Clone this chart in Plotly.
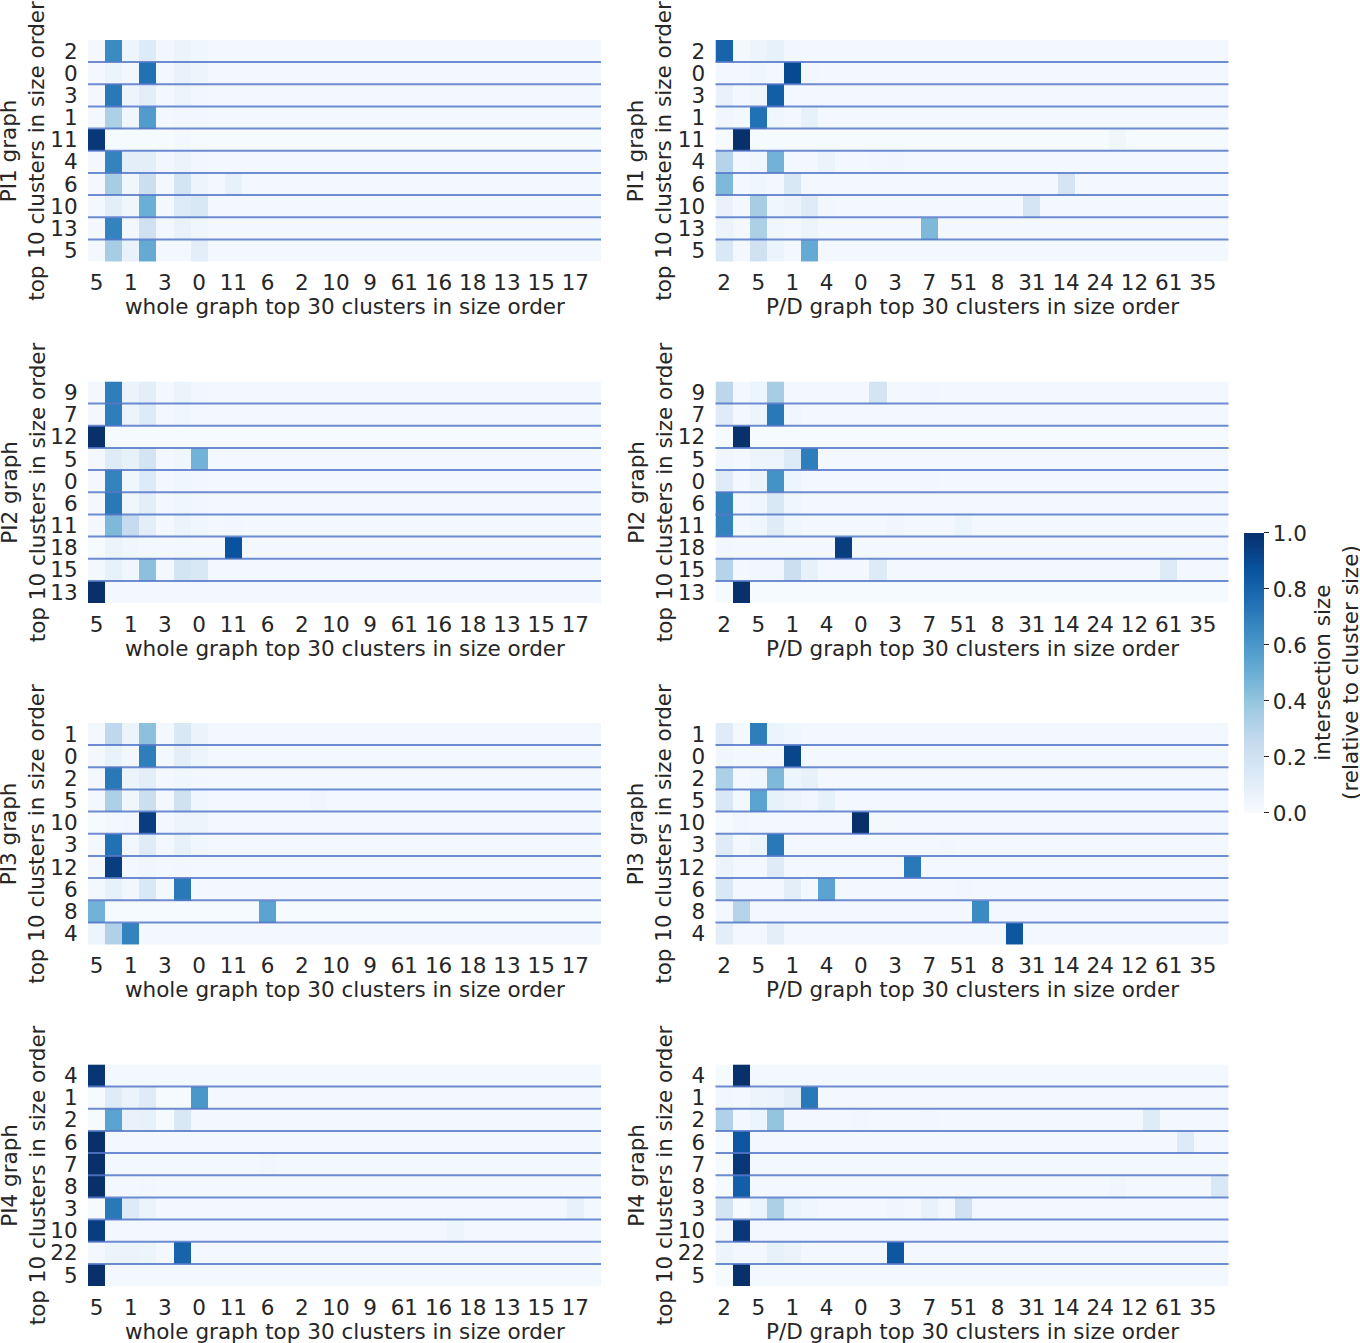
import plotly.graph_objects as go

# ---------------- data ----------------
whole_labels = ["5", "1", "3", "0", "11", "6", "2", "10", "9", "61", "16", "18", "13", "15", "17"]
pd_labels = ["2", "5", "1", "4", "0", "3", "7", "51", "8", "31", "14", "24", "12", "61", "35"]

pi1_rows = ["2", "0", "3", "1", "11", "4", "6", "10", "13", "5"]
pi2_rows = ["9", "7", "12", "5", "0", "6", "11", "18", "15", "13"]
pi3_rows = ["1", "0", "2", "5", "10", "3", "12", "6", "8", "4"]
pi4_rows = ["4", "1", "2", "6", "7", "8", "3", "10", "22", "5"]

pi1_whole = [
    [.02,.65,.05,.13,.03,.06,.04,.02,.02,.02, .02,.02,.02,.02,.02,.02,.02,.02,.02,.02, .02,.02,.02,.02,.02,.02,.02,.02,.02,.02],
    [.02,.06,.03,.75,.02,.07,.05,.02,.02,.02, .02,.02,.02,.02,.02,.02,.02,.02,.02,.02, .02,.02,.02,.02,.02,.02,.02,.02,.02,.02],
    [.02,.72,.05,.10,.02,.05,.03,.02,.02,.02, .02,.02,.02,.02,.02,.02,.02,.02,.02,.02, .02,.02,.02,.02,.02,.02,.02,.02,.02,.02],
    [.02,.33,.04,.58,.02,.03,.03,.02,.02,.02, .02,.02,.02,.02,.02,.02,.02,.02,.02,.02, .02,.02,.02,.02,.02,.02,.02,.02,.02,.02],
    [.97,.01,.01,.01,.01,.02,.01,.01,.01,.01, .01,.01,.01,.01,.01,.01,.01,.01,.01,.01, .01,.01,.01,.01,.01,.01,.01,.01,.01,.01],
    [.02,.68,.10,.10,.03,.06,.03,.02,.02,.02, .02,.02,.02,.02,.02,.02,.02,.02,.02,.02, .02,.02,.02,.02,.02,.02,.02,.02,.02,.02],
    [.02,.35,.04,.22,.02,.18,.05,.02,.08,.02, .02,.02,.02,.02,.02,.02,.02,.02,.02,.02, .02,.02,.02,.02,.02,.02,.02,.02,.02,.02],
    [.02,.10,.04,.50,.02,.13,.15,.02,.02,.02, .02,.02,.02,.02,.02,.02,.02,.02,.02,.02, .02,.02,.02,.02,.02,.02,.02,.02,.02,.02],
    [.02,.68,.03,.20,.02,.07,.04,.02,.02,.02, .02,.02,.02,.02,.02,.02,.02,.02,.02,.02, .02,.02,.02,.02,.02,.02,.02,.02,.02,.02],
    [.02,.35,.07,.52,.02,.02,.10,.02,.02,.02, .02,.02,.02,.02,.02,.02,.02,.02,.02,.02, .02,.02,.02,.02,.02,.02,.02,.02,.02,.02],
]

pi1_pd = [
    [.80,.02,.05,.08,.03,.02,.02,.02,.02,.02, .02,.02,.02,.02,.02,.02,.02,.02,.02,.02, .02,.02,.02,.02,.02,.02,.02,.02,.02,.02],
    [.02,.02,.04,.02,.90,.03,.02,.02,.02,.02, .02,.02,.02,.02,.02,.02,.02,.02,.02,.02, .02,.02,.02,.02,.02,.02,.02,.02,.02,.02],
    [.07,.02,.04,.82,.02,.02,.02,.02,.02,.02, .02,.02,.02,.02,.02,.02,.02,.02,.02,.02, .02,.02,.02,.02,.02,.02,.02,.02,.02,.02],
    [.04,.02,.75,.04,.02,.08,.02,.02,.02,.02, .02,.02,.02,.02,.02,.02,.02,.02,.02,.02, .02,.02,.02,.02,.02,.02,.02,.02,.02,.02],
    [.01,1.0,.01,.01,.01,.01,.01,.01,.01,.01, .01,.01,.01,.01,.01,.01,.01,.01,.01,.01, .01,.01,.01,.04,.01,.01,.01,.01,.01,.01],
    [.30,.02,.04,.48,.02,.02,.06,.02,.02,.03, .04,.02,.02,.02,.02,.02,.02,.02,.02,.02, .02,.02,.02,.02,.02,.02,.02,.02,.02,.02],
    [.45,.02,.04,.02,.15,.02,.02,.02,.02,.02, .02,.02,.02,.02,.02,.02,.02,.02,.02,.02, .17,.02,.02,.02,.02,.02,.02,.02,.02,.02],
    [.07,.02,.35,.04,.06,.12,.03,.02,.02,.02, .02,.02,.02,.02,.02,.02,.02,.02,.17,.02, .02,.02,.02,.02,.02,.02,.02,.02,.02,.02],
    [.06,.02,.33,.04,.02,.05,.02,.02,.02,.02, .02,.02,.45,.02,.02,.02,.02,.02,.02,.02, .02,.02,.02,.02,.02,.02,.02,.02,.02,.02],
    [.15,.02,.20,.06,.02,.52,.02,.02,.02,.02, .02,.02,.02,.02,.02,.02,.02,.02,.02,.02, .02,.02,.02,.02,.02,.02,.02,.02,.02,.02],
]

pi2_whole = [
    [.02,.70,.06,.10,.02,.06,.03,.02,.02,.02, .02,.02,.02,.02,.02,.02,.02,.02,.02,.02, .02,.02,.02,.02,.02,.02,.02,.02,.02,.02],
    [.02,.70,.06,.13,.02,.04,.02,.02,.02,.02, .02,.02,.02,.02,.02,.02,.02,.02,.02,.02, .02,.02,.02,.02,.02,.02,.02,.02,.02,.02],
    [1.0,.01,.01,.01,.01,.01,.01,.01,.01,.01, .01,.01,.01,.01,.01,.01,.01,.01,.01,.01, .01,.01,.01,.01,.01,.01,.01,.01,.01,.01],
    [.02,.12,.08,.18,.02,.04,.48,.02,.02,.02, .02,.02,.02,.02,.02,.02,.02,.02,.02,.02, .02,.02,.02,.02,.02,.02,.02,.02,.02,.02],
    [.02,.68,.04,.13,.02,.04,.03,.02,.02,.02, .02,.02,.02,.02,.02,.02,.02,.02,.02,.02, .02,.02,.02,.02,.02,.02,.02,.02,.02,.02],
    [.02,.72,.04,.10,.02,.04,.03,.02,.02,.02, .02,.02,.02,.02,.02,.02,.02,.02,.02,.02, .02,.02,.02,.02,.02,.02,.02,.02,.02,.02],
    [.02,.45,.25,.10,.02,.06,.04,.02,.03,.02, .02,.02,.02,.02,.02,.02,.02,.02,.02,.02, .02,.02,.02,.02,.02,.02,.02,.02,.02,.02],
    [.01,.06,.04,.02,.02,.02,.02,.02,.87,.02, .02,.02,.02,.02,.02,.02,.02,.02,.02,.02, .02,.02,.02,.02,.02,.02,.02,.02,.02,.02],
    [.02,.08,.04,.42,.02,.18,.15,.02,.02,.02, .02,.02,.02,.02,.02,.02,.02,.02,.02,.02, .02,.02,.02,.02,.02,.02,.02,.02,.02,.02],
    [1.0,.02,.02,.02,.02,.02,.02,.02,.02,.02, .02,.02,.02,.02,.02,.02,.02,.02,.02,.02, .02,.02,.02,.02,.02,.02,.02,.02,.02,.02],
]

pi2_pd = [
    [.28,.02,.05,.35,.02,.02,.02,.02,.02,.18, .02,.02,.03,.02,.02,.02,.02,.02,.02,.02, .02,.02,.02,.02,.02,.02,.02,.02,.02,.02],
    [.12,.02,.05,.72,.04,.02,.02,.02,.02,.02, .02,.02,.02,.02,.02,.02,.02,.02,.02,.02, .02,.02,.02,.02,.02,.02,.02,.02,.02,.02],
    [.01,1.0,.01,.01,.01,.01,.01,.01,.01,.01, .01,.01,.01,.01,.01,.01,.01,.01,.01,.01, .01,.01,.01,.01,.01,.01,.01,.01,.01,.01],
    [.04,.02,.05,.05,.13,.70,.02,.02,.02,.02, .02,.02,.02,.02,.02,.02,.02,.02,.02,.02, .02,.02,.02,.02,.02,.02,.02,.02,.02,.02],
    [.12,.02,.06,.62,.05,.02,.02,.02,.02,.02, .02,.02,.03,.02,.02,.02,.02,.02,.02,.02, .02,.02,.02,.02,.02,.02,.02,.02,.02,.02],
    [.68,.02,.04,.15,.04,.02,.02,.02,.02,.02, .02,.02,.02,.02,.02,.02,.02,.02,.02,.02, .02,.02,.02,.02,.02,.02,.02,.02,.02,.02],
    [.68,.02,.04,.12,.04,.02,.02,.02,.02,.02, .04,.02,.02,.02,.05,.02,.02,.02,.02,.02, .02,.02,.02,.02,.02,.02,.02,.02,.02,.02],
    [.03,.02,.02,.02,.02,.02,.02,.95,.02,.02, .02,.02,.02,.02,.02,.02,.02,.02,.02,.02, .02,.02,.02,.02,.02,.02,.02,.02,.02,.02],
    [.30,.02,.03,.03,.22,.08,.02,.02,.02,.13, .02,.02,.02,.02,.02,.02,.02,.02,.02,.02, .02,.02,.02,.02,.02,.02,.13,.02,.02,.02],
    [.01,1.0,.01,.01,.01,.01,.01,.01,.01,.01, .01,.01,.01,.01,.01,.01,.01,.01,.01,.01, .01,.01,.01,.01,.01,.01,.01,.01,.01,.01],
]

pi3_whole = [
    [.02,.27,.06,.42,.02,.15,.06,.02,.02,.02, .02,.02,.02,.02,.02,.02,.02,.02,.02,.02, .02,.02,.02,.02,.02,.02,.02,.02,.02,.02],
    [.02,.07,.03,.70,.02,.10,.05,.02,.02,.02, .02,.02,.02,.02,.02,.02,.02,.02,.02,.02, .02,.02,.02,.02,.02,.02,.02,.02,.02,.02],
    [.02,.72,.06,.10,.02,.04,.03,.02,.02,.02, .02,.02,.02,.02,.02,.02,.02,.02,.02,.02, .02,.02,.02,.02,.02,.02,.02,.02,.02,.02],
    [.02,.33,.04,.22,.02,.20,.04,.02,.02,.02, .02,.02,.02,.04,.02,.02,.02,.02,.02,.02, .02,.02,.02,.02,.02,.02,.02,.02,.02,.02],
    [.01,.02,.03,.95,.02,.05,.05,.02,.02,.02, .02,.02,.02,.02,.02,.02,.02,.02,.02,.02, .02,.02,.02,.02,.02,.02,.02,.02,.02,.02],
    [.02,.75,.03,.12,.02,.08,.04,.02,.02,.02, .02,.02,.02,.02,.02,.02,.02,.02,.02,.02, .02,.02,.02,.02,.02,.02,.02,.02,.02,.02],
    [.02,.95,.02,.04,.02,.03,.02,.02,.02,.02, .02,.02,.02,.02,.02,.02,.02,.02,.02,.02, .02,.02,.02,.02,.02,.02,.02,.02,.02,.02],
    [.02,.08,.03,.15,.02,.72,.02,.02,.02,.02, .02,.02,.02,.02,.02,.02,.02,.02,.02,.02, .02,.02,.02,.02,.02,.02,.02,.02,.02,.02],
    [.48,.01,.01,.01,.01,.01,.01,.01,.01,.01, .55,.01,.01,.01,.01,.01,.01,.01,.01,.01, .01,.01,.01,.01,.01,.01,.01,.01,.01,.01],
    [.05,.32,.68,.02,.02,.02,.02,.02,.02,.02, .02,.02,.02,.02,.02,.02,.02,.02,.02,.02, .02,.02,.02,.02,.02,.02,.02,.02,.02,.02],
]

pi3_pd = [
    [.12,.02,.70,.06,.04,.02,.02,.02,.02,.02, .02,.02,.02,.02,.02,.02,.02,.02,.02,.02, .02,.02,.02,.02,.02,.02,.02,.02,.02,.02],
    [.04,.02,.02,.02,.92,.02,.02,.02,.02,.02, .02,.02,.02,.02,.02,.02,.02,.02,.02,.02, .02,.02,.02,.02,.02,.02,.02,.02,.02,.02],
    [.33,.02,.04,.45,.05,.08,.02,.02,.02,.02, .02,.02,.02,.02,.02,.02,.02,.02,.02,.02, .02,.02,.02,.02,.02,.02,.02,.02,.02,.02],
    [.15,.02,.55,.08,.05,.03,.08,.02,.02,.02, .02,.02,.02,.02,.02,.02,.02,.02,.02,.02, .02,.02,.02,.02,.02,.02,.02,.02,.02,.02],
    [.01,.03,.02,.02,.02,.02,.02,.02,1.0,.02, .02,.02,.02,.02,.02,.02,.02,.02,.02,.02, .02,.02,.02,.02,.02,.02,.02,.02,.02,.02],
    [.12,.02,.05,.72,.02,.02,.02,.02,.02,.02, .02,.02,.02,.03,.02,.02,.02,.02,.02,.02, .02,.02,.02,.02,.02,.02,.02,.02,.02,.02],
    [.06,.02,.02,.12,.02,.02,.02,.02,.02,.02, .02,.72,.02,.02,.02,.02,.02,.02,.02,.02, .02,.02,.02,.02,.02,.02,.02,.02,.02,.02],
    [.15,.02,.02,.02,.10,.02,.55,.02,.02,.02, .02,.02,.02,.02,.03,.02,.02,.02,.02,.02, .02,.02,.02,.02,.02,.02,.02,.02,.02,.02],
    [.02,.30,.02,.02,.02,.02,.02,.02,.02,.02, .02,.02,.02,.02,.02,.65,.02,.02,.02,.02, .02,.02,.02,.02,.02,.02,.02,.02,.02,.02],
    [.10,.02,.02,.10,.02,.02,.02,.02,.02,.02, .02,.02,.02,.02,.02,.02,.02,.85,.02,.02, .02,.02,.02,.02,.02,.02,.02,.02,.02,.02],
]

pi4_whole = [
    [.98,.02,.02,.02,.02,.02,.02,.02,.02,.02, .02,.02,.02,.02,.02,.02,.02,.02,.02,.02, .02,.02,.02,.02,.02,.02,.02,.02,.02,.02],
    [.01,.12,.06,.12,.01,.01,.60,.02,.02,.02, .02,.02,.02,.02,.02,.02,.02,.02,.02,.02, .02,.02,.02,.02,.02,.02,.02,.02,.02,.02],
    [.01,.55,.07,.08,.01,.15,.02,.02,.02,.02, .02,.02,.02,.02,.02,.02,.02,.02,.02,.02, .02,.02,.02,.02,.02,.02,.02,.02,.02,.02],
    [1.0,.02,.02,.02,.02,.02,.02,.02,.02,.02, .02,.02,.02,.02,.02,.02,.02,.02,.02,.02, .02,.02,.02,.02,.02,.02,.02,.02,.02,.02],
    [1.0,.02,.02,.02,.02,.02,.02,.02,.02,.02, .03,.02,.02,.02,.02,.02,.02,.02,.02,.02, .02,.02,.02,.02,.02,.02,.02,.02,.02,.02],
    [1.0,.02,.02,.03,.02,.02,.02,.02,.02,.02, .02,.02,.02,.02,.02,.02,.02,.02,.02,.02, .02,.02,.02,.02,.02,.02,.02,.02,.02,.02],
    [.01,.72,.13,.06,.02,.02,.02,.02,.02,.02, .02,.02,.02,.02,.02,.02,.02,.02,.02,.02, .02,.02,.02,.02,.02,.02,.02,.02,.08,.02],
    [.95,.02,.02,.02,.02,.02,.02,.02,.02,.02, .02,.02,.02,.02,.02,.02,.02,.02,.02,.02, .02,.05,.02,.02,.02,.02,.02,.02,.02,.02],
    [.02,.06,.06,.05,.02,.80,.02,.02,.02,.02, .02,.02,.02,.02,.02,.02,.02,.02,.02,.02, .02,.02,.02,.02,.02,.02,.02,.02,.02,.02],
    [1.0,.02,.02,.02,.02,.02,.02,.02,.02,.02, .02,.02,.02,.02,.02,.02,.02,.02,.02,.02, .02,.02,.02,.02,.02,.02,.02,.02,.02,.02],
]

pi4_pd = [
    [.01,1.0,.02,.02,.02,.02,.02,.02,.02,.02, .02,.02,.02,.02,.02,.02,.02,.02,.02,.02, .02,.02,.02,.02,.02,.02,.02,.02,.02,.02],
    [.03,.02,.05,.06,.10,.72,.02,.02,.02,.02, .02,.02,.02,.02,.02,.02,.02,.02,.02,.02, .02,.02,.02,.02,.02,.02,.02,.02,.02,.02],
    [.32,.02,.05,.40,.02,.02,.02,.02,.03,.02, .02,.02,.03,.02,.02,.02,.02,.02,.02,.02, .02,.02,.02,.02,.02,.12,.02,.02,.02,.02],
    [.01,.85,.02,.02,.02,.02,.02,.02,.02,.02, .02,.02,.02,.02,.02,.02,.02,.02,.02,.02, .02,.02,.02,.02,.02,.02,.02,.13,.02,.02],
    [.01,.97,.02,.02,.02,.02,.02,.02,.02,.02, .02,.02,.02,.02,.02,.02,.02,.02,.02,.02, .02,.02,.02,.02,.02,.02,.02,.02,.02,.02],
    [.01,.82,.02,.02,.02,.02,.02,.02,.02,.02, .02,.02,.02,.02,.02,.02,.02,.02,.02,.02, .02,.02,.02,.04,.02,.02,.02,.02,.02,.15],
    [.18,.01,.05,.33,.06,.04,.02,.02,.02,.02, .04,.02,.07,.02,.20,.02,.02,.02,.02,.02, .02,.02,.02,.02,.02,.02,.02,.02,.02,.02],
    [.02,.97,.02,.02,.02,.02,.02,.02,.02,.02, .02,.02,.02,.02,.02,.02,.02,.02,.02,.02, .02,.02,.02,.02,.02,.02,.02,.02,.02,.02],
    [.05,.02,.02,.08,.06,.02,.02,.02,.02,.02, .85,.02,.02,.02,.02,.02,.02,.02,.02,.02, .02,.02,.02,.02,.02,.02,.02,.02,.02,.02],
    [.01,1.0,.02,.02,.02,.02,.02,.02,.02,.02, .02,.02,.02,.02,.02,.02,.02,.02,.02,.02, .02,.02,.02,.02,.02,.02,.02,.02,.02,.02],
]

# ---------------- layout helpers ----------------
W, H = 1360, 1343
FONT = "DejaVu Sans"
FS = 21.5
TXT = "#262626"
blues = [[0.0, "#f7fbff"], [0.125, "#deebf7"], [0.25, "#c6dbef"], [0.375, "#9ecae1"],
         [0.5, "#6baed6"], [0.625, "#4292c6"], [0.75, "#2171b5"], [0.875, "#08519c"], [1.0, "#08306b"]]

panels = [
    ("PI1", pi1_rows, pi1_whole, pi1_pd),
    ("PI2", pi2_rows, pi2_whole, pi2_pd),
    ("PI3", pi3_rows, pi3_whole, pi3_pd),
    ("PI4", pi4_rows, pi4_whole, pi4_pd),
]

col_left = [(88.0, 601.0), (715.5, 1228.5)]
row_tops = [39.0, 381.0, 723.0, 1065.0]
PH = 222.0

fig = go.Figure()
layout = dict(
    width=W, height=H, margin=dict(l=0, r=0, t=0, b=0),
    paper_bgcolor="white", plot_bgcolor="white",
    font=dict(family=FONT, size=FS, color=TXT),
    showlegend=False,
)
shapes = []
annotations = []
n = 0
for r, (name, rows, zw, zp) in enumerate(panels):
    top = row_tops[r]
    for c, (z, labels, xtitle) in enumerate([
        (zw, whole_labels, "whole graph top 30 clusters in size order"),
        (zp, pd_labels, "P/D graph top 30 clusters in size order"),
    ]):
        for row in z:
            assert len(row) == 30
        n += 1
        sfx = "" if n == 1 else str(n)
        x0p, x1p = col_left[c]
        fig.add_trace(go.Heatmap(
            z=z, x=list(range(30)), y=list(range(10)),
            xaxis="x" + sfx, yaxis="y" + sfx,
            colorscale=blues, zmin=0, zmax=1,
            showscale=(n == 1),
            colorbar=dict(
                thickness=20, lenmode="pixels", len=280,
                x=1244 / W, xanchor="left", xpad=0,
                y=1 - 673 / H, yanchor="middle", ypad=0,
                tickvals=[0, 0.2, 0.4, 0.6, 0.8, 1.0],
                ticktext=["0.0", "0.2", "0.4", "0.6", "0.8", "1.0"],
                ticks="outside", ticklen=5, tickwidth=1.2, tickcolor=TXT,
                tickfont=dict(family=FONT, size=FS, color=TXT),
                outlinewidth=0,
            ),
        ))
        layout["xaxis" + sfx] = dict(
            domain=[x0p / W, x1p / W], anchor="y" + sfx,
            range=[-0.5, 29.5], tickmode="array",
            tickvals=list(range(0, 30, 2)), ticktext=labels, tickangle=0,
            ticks="outside", ticklen=2, tickcolor="rgba(0,0,0,0)",
            showgrid=False, zeroline=False, showline=False,
            tickfont=dict(family=FONT, size=FS, color=TXT),
        )
        layout["yaxis" + sfx] = dict(
            domain=[1 - (top + PH) / H, 1 - top / H], anchor="x" + sfx,
            range=[9.5, -0.5], tickmode="array",
            tickvals=list(range(10)), ticktext=rows,
            ticks="outside", ticklen=5, tickcolor="rgba(0,0,0,0)",
            showgrid=False, zeroline=False, showline=False,
            tickfont=dict(family=FONT, size=FS, color=TXT),
        )
        for k in range(9):
            shapes.append(dict(
                type="line", xref="x" + sfx + " domain", yref="y" + sfx,
                x0=0, x1=1, y0=k + 0.5, y1=k + 0.5,
                line=dict(color="rgba(85,120,200,0.85)", width=2),
            ))
        # x title
        annotations.append(dict(
            text=xtitle, xref="paper", yref="paper",
            x=(x0p + x1p) / 2 / W, y=1 - (top + PH + 45) / H,
            xanchor="center", yanchor="middle", showarrow=False,
            font=dict(family=FONT, size=FS, color=TXT),
        ))
        # y title
        ycx = 23 if c == 0 else 650
        annotations.append(dict(
            text=f"{name} graph<br>top 10 clusters in size order",
            xref="paper", yref="paper",
            x=ycx / W, y=1 - (top + PH / 2) / H,
            xanchor="center", yanchor="middle", showarrow=False,
            textangle=-90,
            font=dict(family=FONT, size=FS, color=TXT),
        ))

annotations.append(dict(
    text="intersection size<br>(relative to cluster size)",
    xref="paper", yref="paper",
    x=1337 / W, y=1 - 673 / H,
    xanchor="center", yanchor="middle", showarrow=False,
    textangle=-90,
    font=dict(family=FONT, size=FS, color=TXT),
))

layout["shapes"] = shapes
layout["annotations"] = annotations
fig.update_layout(**layout)
fig.write_html(
    "out.html",
    config={"displayModeBar": False},
    post_script="document.body.style.margin='0';document.body.style.overflow='hidden';",
)
